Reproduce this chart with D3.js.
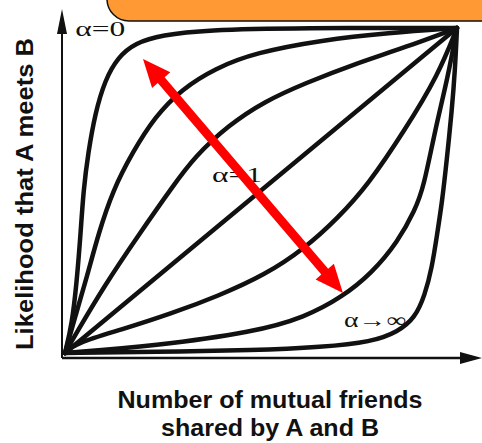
<!DOCTYPE html>
<html>
<head>
<meta charset="utf-8">
<script src="https://cdn.jsdelivr.net/npm/d3@7"></script>
<style>
  body { margin: 0; background: #fff; }
  svg { display: block; }
</style>
</head>
<body>
<div id="chart"></div>
<script>
// curves, [x, y] with both axes normalised 0..1
const alphaZero = [[0,0],[0.018,0.09],[0.03,0.22],[0.04,0.37],[0.047,0.5],[0.059,0.615],[0.077,0.738],[0.102,0.84],[0.135,0.91],[0.179,0.954],[0.247,0.978],[0.357,0.994],[0.6,1],[1,1]];
const alphaLow1 = [[0,0],[0.028,0.12],[0.056,0.235],[0.086,0.37],[0.122,0.5],[0.171,0.615],[0.23,0.728],[0.298,0.812],[0.383,0.876],[0.485,0.924],[0.656,0.963],[0.824,0.985],[1,1]];
const alphaLow2 = [[0,0],[0.026,0.055],[0.102,0.21],[0.186,0.36],[0.276,0.515],[0.332,0.605],[0.416,0.7],[0.51,0.775],[0.612,0.83],[0.74,0.89],[0.867,0.94],[1,1]];
const alphaOne = [[0,0],[0.5,0.5],[1,1]];
const alphaHigh1 = [[0,0],[0.026,0.03],[0.145,0.072],[0.273,0.122],[0.39,0.175],[0.51,0.24],[0.612,0.322],[0.696,0.415],[0.773,0.517],[0.867,0.686],[0.952,0.855],[1,1]];
const alphaHigh2 = [[0,0],[0.23,0.022],[0.485,0.065],[0.612,0.11],[0.707,0.172],[0.783,0.246],[0.849,0.342],[0.893,0.44],[0.915,0.51],[0.944,0.686],[0.977,0.85],[1,1]];
const alphaInf = [[0,0],[0.23,0.004],[0.485,0.008],[0.656,0.018],[0.783,0.034],[0.849,0.065],[0.893,0.108],[0.918,0.178],[0.936,0.262],[0.949,0.363],[0.962,0.465],[0.974,0.595],[0.987,0.748],[0.995,0.872],[1,1]];

const curves = [alphaZero, alphaLow1, alphaLow2, alphaOne, alphaHigh1, alphaHigh2, alphaInf];

const curveLabels = [
  { text: 'α=0', x: 0.026, y: 0.975, size: 21, len: 50 },
  { text: 'α=1', x: 0.375, y: 0.527, size: 21, len: 50 },
  { text: 'α→∞', x: 0.712, y: 0.08, size: 20, len: 62 }
];

// red double arrow, from / to in data space
const arrowFrom = [0.199, 0.905];
const arrowTo = [0.709, 0.185];

const xTitle = ['Number of mutual friends', 'shared by A and B'];
const yTitle = 'Likelihood that A meets B';

const width = 482, height = 443;

const svg = d3.select('#chart').append('svg')
  .attr('width', width)
  .attr('height', height);

svg.append('rect').attr('width', width).attr('height', height).attr('fill', '#fff');

const x = d3.scaleLinear().domain([0, 1]).range([65, 457]);
const y = d3.scaleLinear().domain([0, 1]).range([353, 28]);

// axes (no ticks, just arrows)
const axisX0 = x(0) - 3, axisY0 = y(0) + 5;
svg.append('line')
  .attr('x1', axisX0).attr('y1', axisY0)
  .attr('x2', 466).attr('y2', axisY0)
  .attr('stroke', '#111').attr('stroke-width', 2.5);
svg.append('path')
  .attr('d', `M482,${axisY0} L460,${axisY0 - 6} L460,${axisY0 + 6} Z`)
  .attr('fill', '#111');

svg.append('line')
  .attr('x1', axisX0).attr('y1', axisY0)
  .attr('x2', axisX0).attr('y2', 28)
  .attr('stroke', '#111').attr('stroke-width', 2);
svg.append('path')
  .attr('d', `M${axisX0},9 L${axisX0 - 5},34 L${axisX0 + 5},34 Z`)
  .attr('fill', '#111');

const line = d3.line()
  .x(d => x(d[0]))
  .y(d => y(d[1]))
  .curve(d3.curveBasis);

svg.append('g').selectAll('path')
  .data(curves)
  .join('path')
  .attr('d', line)
  .attr('fill', 'none')
  .attr('stroke', '#111')
  .attr('stroke-width', 4.5)
  .attr('stroke-linecap', 'round')
  .attr('stroke-linejoin', 'round');

svg.append('g').selectAll('text')
  .data(curveLabels)
  .join('text')
  .attr('x', d => x(d.x))
  .attr('y', d => y(d.y))
  .attr('font-family', '"Liberation Serif", "DejaVu Serif", serif')
  .attr('font-size', d => d.size)
  .attr('textLength', d => d.len)
  .attr('lengthAdjust', 'spacingAndGlyphs')
  .attr('fill', '#111')
  .text(d => d.text);

// red double-headed arrow
function drawArrow(p0, p1) {
  const ax = x(p0[0]), ay = y(p0[1]);
  const bx = x(p1[0]), by = y(p1[1]);
  const len = Math.hypot(bx - ax, by - ay);
  const ux = (bx - ax) / len, uy = (by - ay) / len;
  const nx = -uy, ny = ux;
  const headLen = 28, headW = 12, shaftW = 4.5;
  const pts = [
    [ax, ay],
    [ax + ux * headLen + nx * headW, ay + uy * headLen + ny * headW],
    [ax + ux * headLen + nx * shaftW, ay + uy * headLen + ny * shaftW],
    [bx - ux * headLen + nx * shaftW, by - uy * headLen + ny * shaftW],
    [bx - ux * headLen + nx * headW, by - uy * headLen + ny * headW],
    [bx, by],
    [bx - ux * headLen - nx * headW, by - uy * headLen - ny * headW],
    [bx - ux * headLen - nx * shaftW, by - uy * headLen - ny * shaftW],
    [ax + ux * headLen - nx * shaftW, ay + uy * headLen - ny * shaftW],
    [ax + ux * headLen - nx * headW, ay + uy * headLen - ny * headW]
  ];
  svg.append('path')
    .attr('d', 'M' + pts.map(p => p.join(',')).join('L') + 'Z')
    .attr('fill', '#ff0000');
}
drawArrow(arrowFrom, arrowTo);

// axis titles
svg.append('text')
  .attr('transform', 'translate(33,194) rotate(-90)')
  .attr('text-anchor', 'middle')
  .attr('font-family', '"Liberation Sans", Arial, sans-serif')
  .attr('font-weight', 'bold')
  .attr('font-size', 24)
  .attr('textLength', 312)
  .attr('lengthAdjust', 'spacingAndGlyphs')
  .attr('fill', '#111')
  .text(yTitle);

svg.append('g').selectAll('text')
  .data(xTitle)
  .join('text')
  .attr('x', 270)
  .attr('y', (d, i) => 408 + i * 28)
  .attr('text-anchor', 'middle')
  .attr('font-family', '"Liberation Sans", Arial, sans-serif')
  .attr('font-weight', 'bold')
  .attr('font-size', 23)
  .attr('textLength', (d, i) => i === 0 ? 305 : 218)
  .attr('lengthAdjust', 'spacingAndGlyphs')
  .attr('fill', '#111')
  .text(d => d);

// orange callout box cut off at the top
svg.append('rect')
  .attr('x', 107).attr('y', -40)
  .attr('width', 420).attr('height', 61)
  .attr('rx', 22)
  .attr('fill', '#ff9933')
  .attr('stroke', '#111')
  .attr('stroke-width', 1.5);
</script>
</body>
</html>
